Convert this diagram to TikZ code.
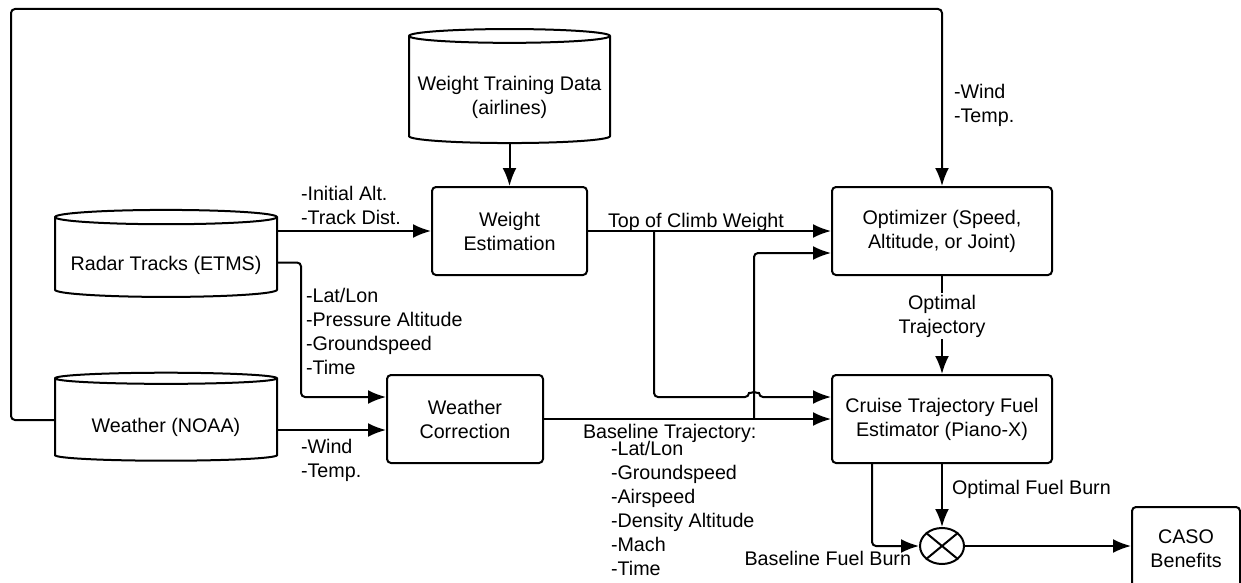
\documentclass[tikz,border=0pt]{standalone}
\usepackage{fontspec}
\setmainfont{Liberation Sans}
\usetikzlibrary{shapes.geometric}
\usetikzlibrary{arrows.meta}
\usetikzlibrary{calc}
\newcommand{\lowtext}[1]{\raisebox{-4pt}[\height][\depth]{\begin{tabular}{@{}c@{}}#1\end{tabular}}}

\begin{document}
\begin{tikzpicture}[x=0.5pt,y=-0.5pt,line width=1pt,
  font=\fontsize{9.85}{12}\selectfont,
  box/.style={draw,rounded corners=2pt,align=center,inner sep=0pt},
  store/.style={draw,cylinder,shape border rotate=90,aspect=0.075,inner sep=0pt},
  flow/.style={-{Latex[length=9pt,width=7pt]},rounded corners=2pt},
  lbl/.style={align=left,inner sep=0pt}]
\useasboundingbox (0,0) rectangle (1241,583);
% data stores
\node[store,minimum width=111pt,minimum height=43.5pt] (radar) at (166,257.5) {\lowtext{Radar Tracks (ETMS)}};
\node[store,minimum width=111pt,minimum height=44pt] (noaa) at (166,420) {\lowtext{Weather (NOAA)}};
\node[store,minimum width=100.5pt,minimum height=57pt] (wtd) at (509.5,90) {\lowtext{Weight Training Data\\(airlines)}};
% processing blocks
\node[box,minimum width=77.5pt,minimum height=44pt] (west) at (509.5,231) {Weight\\Estimation};
\node[box,minimum width=78pt,minimum height=44pt] (wcorr) at (465,419) {Weather\\Correction};
\node[box,minimum width=110pt,minimum height=44pt] (opt) at (942,231) {Optimizer (Speed,\\Altitude, or Joint)};
\node[box,minimum width=110pt,minimum height=44pt] (cruise) at (942,419) {Cruise Trajectory Fuel\\Estimator (Piano-X)};
\node[draw,ellipse,minimum width=22pt,minimum height=18pt,inner sep=0pt] (sum) at (942,546) {};
\draw (sum.north west) -- (sum.south east) (sum.north east) -- (sum.south west);
\node[box,minimum width=54pt,minimum height=41.5pt] (caso) at (1186,548.5) {CASO\\Benefits};

\coordinate (corner) at (11,9);
\coordinate (tap) at (654,231);
\coordinate (hop) at (754,397);
\coordinate (bltap) at (754,419);

% connectors
\draw[flow] (wtd) -- (west);
\draw[flow] (radar.east |- west.west) -- (west.west);
\node[lbl,anchor=west] (linit) at (300,205) {-Initial Alt.\\-Track Dist.};
\draw[flow] ($(radar.east)+(0,5)$) -- ++(23,0) |- ($(wcorr.west)+(0,-22)$);
\node[lbl,anchor=west] (ltrack) at (305,331.5) {-Lat/Lon\\-Pressure Altitude\\-Groundspeed\\-Time};
\draw[flow] ($(noaa.east)+(0,10)$) -- ($(wcorr.west)+(0,11)$);
\node[lbl,anchor=west] (lwx) at (300,460) {-Wind\\-Temp.};
\draw[flow] (noaa.west) -| (corner) -| (opt.north);
\node[lbl,anchor=west] (lwxopt) at (953,105) {-Wind\\-Temp.};
\draw[flow] (west.east) -- (opt.west);
\node[lbl,anchor=base west] (ltoc) at (607,227) {Top of Climb Weight};
\draw[flow] (tap) |- ($(hop)+(-5,0)$) arc (180:360:5) -- ($(cruise.west)+(0,-22)$);
\draw[flow] (wcorr.east) -- (cruise.west);
\draw[flow] (bltap) |- ($(opt.west)+(0,22)$);
\node[lbl,anchor=west] (lbase) at (582,433) {Baseline Trajectory:};
\node[lbl,anchor=west] (lbaselist) at (610,508.5) {-Lat/Lon\\-Groundspeed\\-Airspeed\\-Density Altitude\\-Mach\\-Time};
\draw[flow] (opt) -- (cruise);
\node[lbl,align=center,fill=white,inner sep=1pt] (lopt) at (942,316) {Optimal\\Trajectory};
\draw[flow] (cruise.south) -- (sum.north);
\node[lbl,anchor=west] (lofb) at (951,489) {Optimal Fuel Burn};
\draw[flow] ($(cruise.south)+(-70,0)$) |- (sum.west);
\node[lbl,anchor=east] (lbfb) at (912,558) {Baseline Fuel Burn};
\draw[flow] (sum.east) -- (caso.west |- sum.east);
\end{tikzpicture}
\end{document}
